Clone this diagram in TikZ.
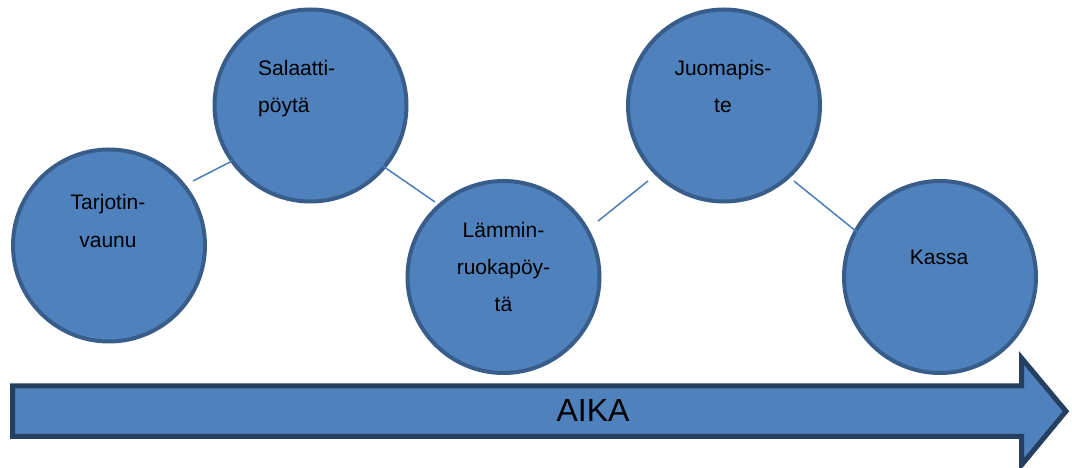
\documentclass[tikz,border=0pt]{standalone}
\usepackage{fontspec}
\setmainfont{Liberation Sans}
\usetikzlibrary{calc}
\definecolor{stationfill}{HTML}{4F81BD}
\definecolor{stationedge}{HTML}{385D8A}
\definecolor{arrowedge}{HTML}{243F60}
\definecolor{linkblue}{HTML}{4A7EBB}
\begin{document}
\begin{tikzpicture}[x=1pt,y=1pt,
  station/.style={circle,draw=stationedge,fill=stationfill,line width=4pt,
    minimum size=192pt,inner sep=0pt},
  lbl/.style={font=\fontsize{21}{21}\selectfont,inner sep=0pt,anchor=base},
  lblw/.style={lbl,anchor=base west},
  link/.style={draw=linkblue,line width=1.5pt},
  timearrow/.style={draw=arrowedge,fill=stationfill,line width=5pt,line join=miter}]
\useasboundingbox (0,0) rectangle (1072,468);

% serving stations
\node[station] (c1) at (109,222.5) {};
\node[station] (c2) at (310.5,362.5) {};
\node[station] (c3) at (503.5,191) {};
\node[station] (c4) at (724,362.5) {};
\node[station] (c5) at (940,191) {};

% links between stations
\draw[link] ($(c1)+(37.5:106)$) -- ($(c2)+(215.3:96)$);
\draw[link] ($(c2)+(-40.4:87)$) -- ($(c3)+(132.4:101.6)$);
\draw[link] ($(c3)+(30.6:109.8)$) -- ($(c4)+(224.8:107)$);
\draw[link] ($(c4)+(-47.2:103)$) -- ($(c5)+(152.3:88)$);

% station names
\node[lbl] (t1a) at ($(c1)+(-1,35.5)$) {Tarjotin-};
\node[lbl] (t1b) at ($(c1)+(-1,-1.8)$) {vaunu};
\node[lblw] (t2a) at ($(c2)+(-52.5,29.8)$) {Salaatti-};
\node[lblw] (t2b) at ($(c2)+(-52.5,-7.2)$) {pöytä};
\node[lbl] (t3a) at ($(c3)+(0,39.7)$) {Lämmin-};
\node[lbl] (t3b) at ($(c3)+(0,2)$) {ruokapöy-};
\node[lbl] (t3c) at ($(c3)+(0,-34.7)$) {tä};
\node[lbl] (t4a) at ($(c4)+(-1,29.8)$) {Juomapis-};
\node[lbl] (t4b) at ($(c4)+(-1,-7.2)$) {te};
\node[lbl] (t5) at ($(c5)+(-1,12)$) {Kassa};

% time axis
\coordinate (aw) at (12.5,56.75);
\coordinate (atip) at (1066,56.75);
\draw[timearrow] (12.5,82) -- (1021.5,82) -- (1021.5,110) -- (atip)
  -- (1021.5,3) -- (1021.5,31.5) -- (12.5,31.5) -- cycle;
\node[font=\fontsize{32}{32}\selectfont,inner sep=0pt,anchor=base] (aika)
  at (593,46.3) {AIKA};
\end{tikzpicture}
\end{document}
